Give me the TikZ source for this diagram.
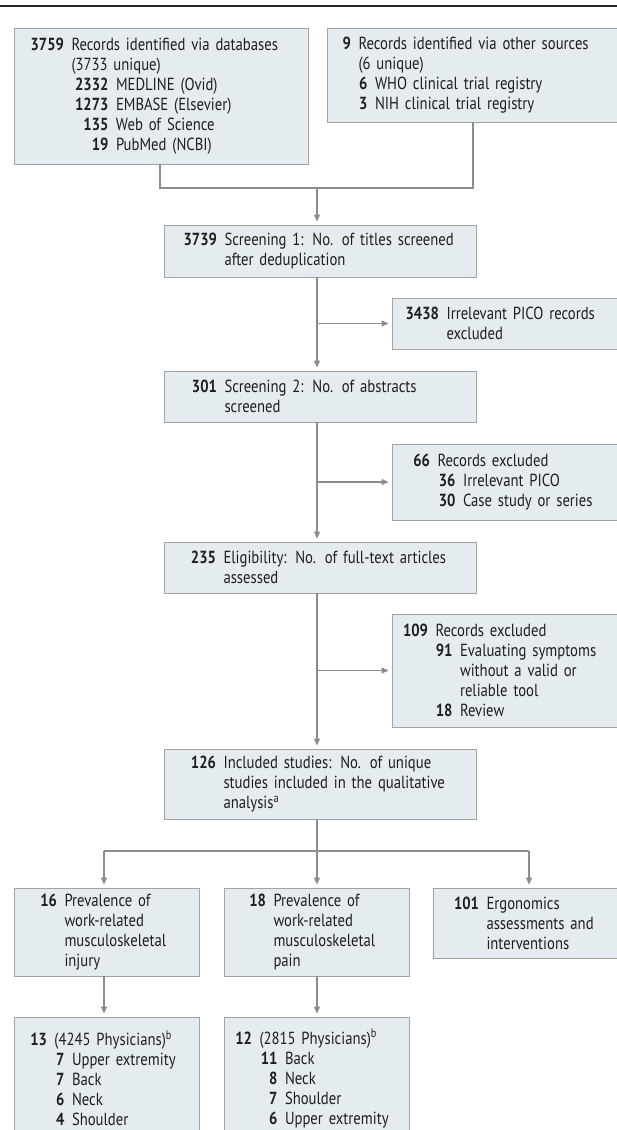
\documentclass[tikz,border=0pt]{standalone}
\usepackage{fontspec}
\setmainfont{PT Sans}[FakeStretch=0.84]
\usetikzlibrary{arrows.meta}
\definecolor{boxfill}{RGB}{228,236,240}
\definecolor{boxline}{RGB}{160,164,168}
\definecolor{conn}{RGB}{138,140,142}
\definecolor{txt}{RGB}{30,30,32}
\newlength\gp \setlength\gp{7.5pt}
\newcommand\numline[3]{\makebox[#1][r]{\bfseries#2}\hspace{\gp}#3}
\newcommand\contline[2]{\hspace*{\dimexpr#1+\gp\relax}#2}
\newcommand\subline[4]{\hspace*{\dimexpr#1+\gp\relax}\makebox[#2][r]{\bfseries#3}\hspace{\gp}#4}
\newcommand\subcont[3]{\hspace*{\dimexpr#1+#2+\gp+\gp\relax}#3}
\tikzset{
  box/.style={draw=boxline, fill=boxfill, line width=0.9pt, inner xsep=0pt, inner ysep=0pt,
    align=left, font=\fontsize{17.5}{20}\selectfont, text=txt},
  ln/.style={draw=conn, line width=1.1pt},
  arr/.style={ln, -{Triangle[length=7pt,width=6pt]}, shorten >=3pt},
}
\begin{document}
\begin{tikzpicture}[x=1pt,y=-1pt]
\useasboundingbox (0,0) rectangle (617,1130);
\clip (0,0) rectangle (617,1130);
\coordinate (rl) at (0,6);
\coordinate (rr) at (617,6);
\draw[line width=1.6pt, draw=black!85] (rl) -- (rr);
\coordinate (sp) at (317,0);
% boxes
\node[box, text width=294pt, minimum height=136pt] (b1) at (161,96) {%
\numline{50pt}{3759}{Records identified via databases}\\
\contline{50pt}{(3733 unique)}\\
\subline{50pt}{37pt}{2332}{MEDLINE (Ovid)}\\
\subline{50pt}{37pt}{1273}{EMBASE (Elsevier)}\\
\subline{50pt}{37pt}{135}{Web of Science}\\
\subline{50pt}{37pt}{19}{PubMed (NCBI)}};
\node[box, text width=295pt, minimum height=94pt] (b2) at (474.5,75) {%
\numline{24pt}{9}{Records identified via other sources}\\
\contline{24pt}{(6 unique)}\\
\subline{24pt}{9pt}{6}{WHO clinical trial registry}\\
\subline{24pt}{9pt}{3}{NIH clinical trial registry}};
\node[box, text width=312pt, minimum height=52pt] (b3) at (320,251) {%
\numline{53pt}{3739}{Screening 1: No. of titles screened}\\
\contline{53pt}{after deduplication}};
\node[box, text width=230pt, minimum height=51pt] (b4) at (507,323.5) {%
\numline{47pt}{3438}{Irrelevant PICO records}\\
\contline{47pt}{excluded}};
\node[box, text width=312pt, minimum height=51pt] (b5) at (320,396.5) {%
\numline{53pt}{301}{Screening 2: No. of abstracts}\\
\contline{53pt}{screened}};
\node[box, text width=230pt, minimum height=76pt] (b6) at (507,482) {%
\numline{38pt}{66}{Records excluded}\\
\subline{38pt}{18pt}{36}{Irrelevant PICO}\\
\subline{38pt}{18pt}{30}{Case study or series}};
\node[box, text width=312pt, minimum height=51pt] (b7) at (320,567.5) {%
\numline{52pt}{235}{Eligibility: No. of full-text articles}\\
\contline{52pt}{assessed}};
\node[box, text width=230pt, minimum height=113pt] (b8) at (507,670.5) {%
\numline{36pt}{109}{Records excluded}\\
\subline{36pt}{17pt}{91}{Evaluating symptoms}\\
\subcont{36pt}{17pt}{without a valid or}\\
\subcont{36pt}{17pt}{reliable tool}\\
\subline{36pt}{17pt}{18}{Review}};
\node[box, text width=312pt, minimum height=70pt] (b9) at (320,784) {%
\numline{52pt}{126}{Included studies: No. of unique}\\
\contline{52pt}{studies included in the qualitative}\\
\contline{52pt}{analysis\textsuperscript{a}}};
\node[box, text width=185pt, minimum height=88pt] (b10) at (106.5,932) {%
\numline{43pt}{16}{Prevalence of}\\
\contline{43pt}{work-related}\\
\contline{43pt}{musculoskeletal}\\
\contline{43pt}{injury}};
\node[box, text width=185pt, minimum height=88pt] (b11) at (316.5,932) {%
\numline{42pt}{18}{Prevalence of}\\
\contline{42pt}{work-related}\\
\contline{42pt}{musculoskeletal}\\
\contline{42pt}{pain}};
\node[box, text width=189pt, minimum height=70pt] (b12) at (527.5,923) {%
\numline{46pt}{101}{Ergonomics}\\
\contline{46pt}{assessments and}\\
\contline{46pt}{interventions}};
\node[box, text width=185pt, minimum height=123pt] (b13) at (106.5,1078.5) {%
\numline{33pt}{13}{(4245 Physicians)\textsuperscript{b}}\\
\subline{33pt}{10pt}{7}{Upper extremity}\\
\subline{33pt}{10pt}{7}{Back}\\
\subline{33pt}{10pt}{6}{Neck}\\
\subline{33pt}{10pt}{4}{Shoulder}};
\node[box, text width=185pt, minimum height=123pt] (b14) at (316.5,1078.5) {%
\numline{28pt}{12}{(2815 Physicians)\textsuperscript{b}}\\
\subline{28pt}{18pt}{11}{Back}\\
\subline{28pt}{18pt}{8}{Neck}\\
\subline{28pt}{18pt}{7}{Shoulder}\\
\subline{28pt}{18pt}{6}{Upper extremity}};
% connectors
\coordinate (m1) at (160,188);
\coordinate (m2) at (473,188);
\draw[ln] (b1.south -| m1) -- (m1) -- (m2) -- (b2.south -| m2);
\draw[arr] (m1 -| sp) -- (b3.north -| sp);
\draw[arr] (b3.south -| sp) -- (b5.north -| sp);
\draw[arr] (sp |- b4.west) -- (b4.west);
\draw[arr] (b5.south -| sp) -- (b7.north -| sp);
\draw[arr] (sp |- b6.west) -- (b6.west);
\draw[arr] (b7.south -| sp) -- (b9.north -| sp);
\draw[arr] (sp |- b8.west) -- (b8.west);
\coordinate (hL) at (104,851);
\coordinate (hR) at (529,851);
\draw[ln] (b9.south -| sp) -- (sp |- hL);
\draw[ln] (hL) -- (hR);
\draw[arr] (hL) -- (b10.north -| hL);
\draw[arr] (sp |- hL) -- (b11.north -| sp);
\draw[arr] (hR) -- (b12.north -| hR);
\draw[arr] (b10.south -| hL) -- (b13.north -| hL);
\draw[arr] (b11.south -| sp) -- (b14.north -| sp);
\end{tikzpicture}
\end{document}
